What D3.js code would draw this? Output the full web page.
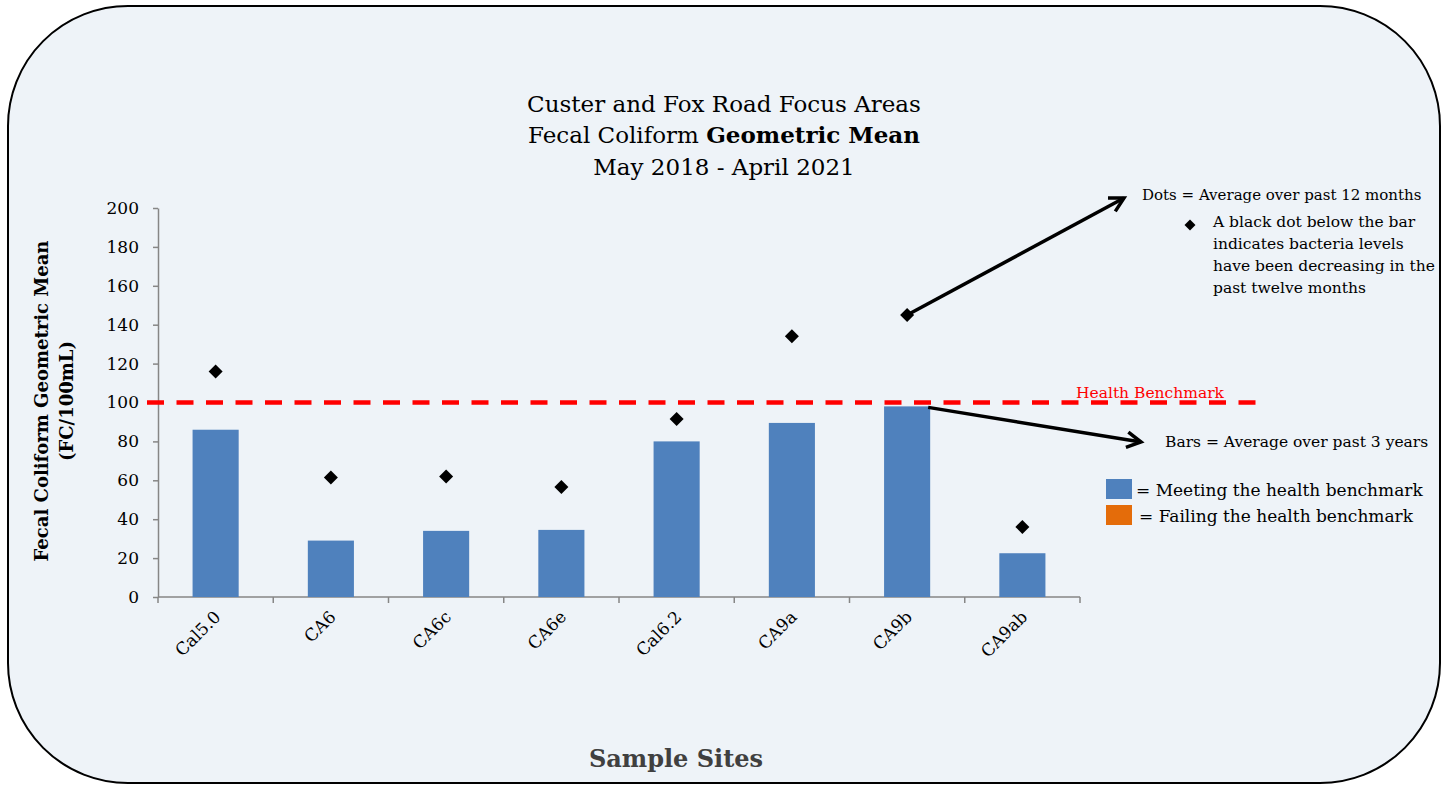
<!DOCTYPE html>
<html>
<head>
<meta charset="utf-8">
<script src="https://cdn.jsdelivr.net/npm/d3@7"></script>
<style>
  body { margin: 0; background: #fff; }
  text { font-family: "DejaVu Serif", "Liberation Serif", serif; }
</style>
</head>
<body>
<svg width="1449" height="785"></svg>
<script>
// chart data
var sites = ["Cal5.0", "CA6", "CA6c", "CA6e", "Cal6.2", "CA9a", "CA9b", "CA9ab"];
var barValues = [86, 29, 34, 34.5, 80, 89.5, 98, 22.5];   // average over past 3 years
var dotValues = [116, 61.5, 62, 56.5, 91.5, 134, 145, 36]; // average over past 12 months
var benchmark = 100;
var yTicks = [0, 20, 40, 60, 80, 100, 120, 140, 160, 180, 200];
var titleLines = ["Custer and Fox Road Focus Areas", "Fecal Coliform ", "May 2018 -  April 2021"];

var svg = d3.select("svg");

// rounded background panel
svg.append("rect")
    .attr("x", 8).attr("y", 6)
    .attr("width", 1432).attr("height", 777)
    .attr("rx", 120).attr("ry", 120)
    .style("fill", "#eef3f8")
    .style("stroke", "#000")
    .style("stroke-width", 2);

var x = d3.scaleBand()
    .domain(sites)
    .range([158, 1080])
    .paddingInner(0.6)
    .paddingOuter(0.3);

var y = d3.scaleLinear()
    .domain([0, 200])
    .range([597, 208]);

// title
var title = svg.append("g").attr("text-anchor", "middle").style("font-size", "23px");
title.append("text").attr("x", 724).attr("y", 112).text(titleLines[0]);
var t2 = title.append("text").attr("x", 724).attr("y", 143);
t2.append("tspan").text(titleLines[1]);
t2.append("tspan").style("font-weight", "bold").text("Geometric Mean");
title.append("text").attr("x", 724).attr("y", 175).text(titleLines[2]);

// y axis
var yAxis = svg.append("g")
    .attr("transform", "translate(158,0)")
    .call(d3.axisLeft(y).tickValues(yTicks).tickSize(5).tickSizeOuter(0).tickPadding(14));
yAxis.selectAll("text").style("font-size", "17px").style("fill", "#000")
    .style("font-family", "DejaVu Serif, serif");
yAxis.selectAll("line,path").style("stroke", "#868686").style("stroke-width", 1.5);

// x axis (ticks at band edges)
var edges = sites.map(function(s) { return x(s) - x.step() * x.paddingInner() / 2; });
edges.push(1080);
var xg = svg.append("g");
xg.append("line")
    .attr("x1", 158).attr("x2", 1080)
    .attr("y1", y(0)).attr("y2", y(0))
    .style("stroke", "#868686").style("stroke-width", 1.5);
xg.selectAll(".tk")
    .data(edges)
  .enter().append("line")
    .attr("x1", function(d) { return d; }).attr("x2", function(d) { return d; })
    .attr("y1", y(0)).attr("y2", y(0) + 6)
    .style("stroke", "#868686").style("stroke-width", 1.5);

// bars
svg.append("g").selectAll("rect")
    .data(barValues)
  .enter().append("rect")
    .attr("x", function(d, i) { return x(sites[i]); })
    .attr("y", function(d) { return y(d); })
    .attr("width", x.bandwidth())
    .attr("height", function(d) { return y(0) - y(d); })
    .style("fill", function(d) { return d > benchmark ? "#e46c0a" : "#4f81bd"; });

// x labels
xg.selectAll(".lbl")
    .data(sites)
  .enter().append("text")
    .attr("transform", function(d) {
      return "translate(" + (x(d) + x.bandwidth() / 2 + 6) + "," + (y(0) + 21) + ") rotate(-45)";
    })
    .attr("text-anchor", "end")
    .style("font-size", "17px")
    .text(function(d) { return d; });

// benchmark line
svg.append("line")
    .attr("x1", 147).attr("x2", 1262)
    .attr("y1", y(benchmark)).attr("y2", y(benchmark))
    .style("stroke", "#ff0000")
    .style("stroke-width", 4.5)
    .style("stroke-dasharray", "17,12.5");
svg.append("text")
    .attr("x", 1076).attr("y", y(benchmark) - 5)
    .style("font-size", "15.5px").style("fill", "#ff0000")
    .text("Health  Benchmark");

// dots
svg.append("g").selectAll("path")
    .data(dotValues)
  .enter().append("path")
    .attr("d", d3.symbol().type(d3.symbolSquare).size(98))
    .attr("transform", function(d, i) {
      return "translate(" + (x(sites[i]) + x.bandwidth() / 2) + "," + y(d) + ") rotate(45)";
    })
    .style("fill", "#000");

// axis titles
svg.append("text")
    .attr("transform", "translate(48," + 401 + ") rotate(-90)")
    .attr("text-anchor", "middle")
    .style("font-size", "18px").style("font-weight", "bold")
    .text("Fecal Coliform Geometric Mean");
svg.append("text")
    .attr("transform", "translate(73," + 401 + ") rotate(-90)")
    .attr("text-anchor", "middle")
    .style("font-size", "18px").style("font-weight", "bold")
    .text("(FC/100mL)");
svg.append("text")
    .attr("x", 676).attr("y", 767)
    .attr("text-anchor", "middle")
    .style("font-size", "24px").style("font-weight", "bold").style("fill", "#404040")
    .text("Sample Sites");

// annotation arrows
function arrow(x1, y1, x2, y2) {
  var a = Math.atan2(y2 - y1, x2 - x1), L = 16, s = 0.5;
  svg.append("line")
      .attr("x1", x1).attr("y1", y1).attr("x2", x2).attr("y2", y2)
      .style("stroke", "#000").style("stroke-width", 3.5);
  svg.append("path")
      .attr("d", "M" + (x2 - L * Math.cos(a - s)) + "," + (y2 - L * Math.sin(a - s)) +
                 "L" + x2 + "," + y2 +
                 "L" + (x2 - L * Math.cos(a + s)) + "," + (y2 - L * Math.sin(a + s)))
      .style("fill", "none").style("stroke", "#000").style("stroke-width", 3.5)
      .style("stroke-linejoin", "miter");
}
var i9b = sites.indexOf("CA9b");
arrow(x("CA9b") + x.bandwidth() / 2, y(dotValues[i9b]), 1124, 198);
arrow(x("CA9b") + x.bandwidth() - 2, y(barValues[i9b]) + 1, 1141, 442);

// annotation text
var note = svg.append("g").style("font-size", "15.5px");
note.append("text").attr("x", 1142).attr("y", 200).style("font-size", "15px")
    .text("Dots = Average  over past 12 months");
note.append("path")
    .attr("d", d3.symbol().type(d3.symbolSquare).size(60))
    .attr("transform", "translate(1190,225) rotate(45)");
["A black dot below  the bar", "indicates bacteria  levels",
 "have been  decreasing  in the", "past twelve months"].forEach(function(t, i) {
  note.append("text").attr("x", 1213).attr("y", 227 + i * 22).text(t);
});
note.append("text").attr("x", 1165).attr("y", 447).text("Bars  = Average  over past  3 years");

// legend
var legend = svg.append("g").style("font-size", "17px");
[["#4f81bd", "= Meeting  the health  benchmark"], ["#e46c0a", "= Failing the health benchmark"]]
  .forEach(function(d, i) {
    legend.append("rect").attr("x", 1106).attr("y", 479 + i * 26)
        .attr("width", 26).attr("height", 20).style("fill", d[0]);
    legend.append("text").attr("x", 1136 + i * 3).attr("y", 496 + i * 26).text(d[1]);
  });
</script>
</body>
</html>
